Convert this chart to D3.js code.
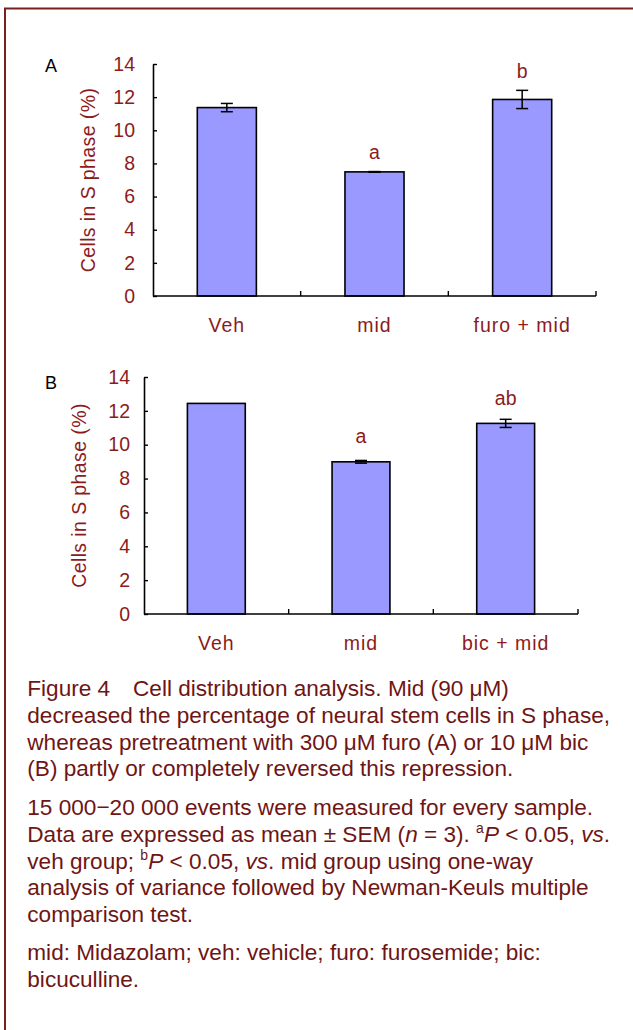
<!DOCTYPE html>
<html>
<head>
<meta charset="utf-8">
<script src="https://cdn.jsdelivr.net/npm/d3@7"></script>
<style>
  body { margin: 0; background: #fff; }
  svg { display: block; font-family: "Liberation Sans", Arial, sans-serif; }
</style>
</head>
<body>
<div id="figure"></div>
<script>
// Panel A data
const categoriesA = ['Veh', 'mid', 'furo + mid'];
const valuesA = [11.37, 7.49, 11.86];
const errorsA = [0.25, 0.02, 0.55];
const marksA = ['', 'a', 'b'];

// Panel B data
const categoriesB = ['Veh', 'mid', 'bic + mid'];
const valuesB = [12.44, 8.99, 11.26];
const errorsB = [0, 0.08, 0.24];
const marksB = ['', 'a', 'ab'];

const yTicks = [0, 2, 4, 6, 8, 10, 12, 14];

const width = 633, height = 1030;
const textRed = '#8c1b1b';
const captionRed = '#6e1515';

const svg = d3.select('#figure').append('svg')
    .attr('width', width)
    .attr('height', height);

svg.append('rect')
    .attr('width', width).attr('height', height)
    .attr('fill', '#fff');

// frame around the figure (right and bottom edges fall outside)
svg.append('rect')
    .attr('x', 5).attr('y', 8.5)
    .attr('width', 700).attr('height', 1100)
    .attr('fill', 'none')
    .attr('stroke', '#7a1f1f')
    .attr('stroke-width', 2);

function drawPanel(cfg) {
    const x = d3.scaleBand()
        .domain(cfg.categories)
        .range([cfg.left, cfg.right])
        .paddingInner(0.6)
        .paddingOuter(0.3);

    const y = d3.scaleLinear()
        .domain([0, 14])
        .range([cfg.bottom, cfg.top]);

    const g = svg.append('g');

    // bars
    g.selectAll('.bar')
        .data(cfg.values)
        .enter()
        .append('rect')
        .attr('class', 'bar')
        .attr('x', (d, i) => x(cfg.categories[i]))
        .attr('width', x.bandwidth())
        .attr('y', d => y(d))
        .attr('height', d => y(0) - y(d))
        .attr('fill', '#9999ff')
        .attr('stroke', '#000')
        .attr('stroke-width', 1.6);

    // error bars
    const capW = 12;
    cfg.values.forEach((v, i) => {
        const e = cfg.errors[i];
        if (!e) return;
        const cx = x(cfg.categories[i]) + x.bandwidth() / 2;
        const eg = g.append('g')
            .attr('stroke', '#000')
            .attr('stroke-width', 1.5);
        eg.append('line')
            .attr('x1', cx).attr('x2', cx)
            .attr('y1', y(v + e)).attr('y2', y(v - e));
        [v + e, v - e].forEach(t => {
            eg.append('line')
                .attr('x1', cx - capW / 2).attr('x2', cx + capW / 2)
                .attr('y1', y(t)).attr('y2', y(t));
        });
    });

    // significance letters
    g.selectAll('.mark')
        .data(cfg.marks)
        .enter()
        .append('text')
        .attr('class', 'mark')
        .attr('x', (d, i) => x(cfg.categories[i]) + x.bandwidth() / 2)
        .attr('y', (d, i) => y(cfg.values[i] + cfg.errors[i]) - cfg.markGap[i])
        .attr('text-anchor', 'middle')
        .style('font-size', '19.5px')
        .style('fill', textRed)
        .text(d => d);

    // y axis
    const yAxis = g.append('g')
        .attr('transform', `translate(${cfg.left},0)`)
        .call(d3.axisLeft(y)
            .tickValues(yTicks)
            .tickSizeInner(-4)
            .tickSizeOuter(0)
            .tickPadding(cfg.tickPad));
    yAxis.select('.domain').attr('stroke', '#000').attr('stroke-width', 1.6);
    yAxis.selectAll('.tick line').attr('stroke', '#000').attr('stroke-width', 1.4);
    yAxis.selectAll('.tick text')
        .style('font-size', '19.5px')
        .style('font-family', '"Liberation Sans", Arial, sans-serif')
        .style('fill', textRed);

    // x axis line with boundary ticks between categories
    g.append('line')
        .attr('x1', cfg.left).attr('x2', cfg.right)
        .attr('y1', y(0)).attr('y2', y(0))
        .attr('stroke', '#000')
        .attr('stroke-width', 1.6);
    g.selectAll('.xtick')
        .data(cfg.categories)
        .enter()
        .append('line')
        .attr('class', 'xtick')
        .attr('x1', (d, i) => cfg.left + x.step() * (i + 1))
        .attr('x2', (d, i) => cfg.left + x.step() * (i + 1))
        .attr('y1', y(0))
        .attr('y2', y(0) - 5)
        .attr('stroke', '#000')
        .attr('stroke-width', 1.4);

    // category labels
    g.selectAll('.xlabel')
        .data(cfg.categories)
        .enter()
        .append('text')
        .attr('class', 'xlabel')
        .attr('x', d => x(d) + x.bandwidth() / 2)
        .attr('y', y(0) + 36)
        .attr('text-anchor', 'middle')
        .style('font-size', '19.5px')
        .style('letter-spacing', '1px')
        .style('fill', textRed)
        .text(d => d);

    // y axis title
    g.append('text')
        .attr('transform', `translate(${cfg.titleX},${(cfg.top + cfg.bottom) / 2}) rotate(-90)`)
        .attr('text-anchor', 'middle')
        .style('font-size', '19.5px')
        .style('letter-spacing', '0.4px')
        .style('fill', textRed)
        .text('Cells in S phase (%)');

    // panel letter
    g.append('text')
        .attr('x', 45)
        .attr('y', cfg.letterY)
        .style('font-size', '18px')
        .style('fill', '#000')
        .text(cfg.letter);
}

drawPanel({
    letter: 'A', letterY: 72,
    categories: categoriesA, values: valuesA, errors: errorsA, marks: marksA,
    markGap: [0, 13, 12],
    left: 153, right: 596, top: 64, bottom: 296,
    tickPad: 18, titleX: 95
});

drawPanel({
    letter: 'B', letterY: 389,
    categories: categoriesB, values: valuesB, errors: errorsB, marks: marksB,
    markGap: [0, 17, 14],
    left: 144, right: 578, top: 377, bottom: 614,
    tickPad: 14, titleX: 86
});

// caption
const caption = svg.append('g')
    .style('font-size', '22.6px')
    .style('fill', captionRed);

const capX = 27.3;
const lines = [
    {y: 696, parts: [['Figure 4'], ['Cell distribution analysis. Mid (90 μM)', 'x133']]},
    {y: 723, parts: [['decreased the percentage of neural stem cells in S phase,']]},
    {y: 750, parts: [['whereas pretreatment with 300 μM furo (A) or 10 μM bic']]},
    {y: 776, parts: [['(B) partly or completely reversed this repression.']]},
    {y: 815, parts: [['15 000−20 000 events were measured for every sample.']]},
    {y: 842, parts: [['Data are expressed as mean ± SEM ('], ['n', 'i'], [' = 3). '], ['a', 'sup'], ['P', 'i'], [' < 0.05, '], ['vs', 'i'], ['.']]},
    {y: 869, parts: [['veh group; '], ['b', 'sup'], ['P', 'i'], [' < 0.05, '], ['vs', 'i'], ['. mid group using one-way']]},
    {y: 895, parts: [['analysis of variance followed by Newman-Keuls multiple']]},
    {y: 922, parts: [['comparison test.']]},
    {y: 960, parts: [['mid: Midazolam; veh: vehicle; furo: furosemide; bic:']]},
    {y: 987, parts: [['bicuculline.']]}
];

lines.forEach(line => {
    const t = caption.append('text')
        .attr('x', capX)
        .attr('y', line.y)
        .attr('xml:space', 'preserve');
    line.parts.forEach(p => {
        const ts = t.append('tspan').text(p[0]);
        if (p[1] === 'i') ts.style('font-style', 'italic');
        if (p[1] === 'x133') ts.attr('x', 133);
        if (p[1] === 'sup') {
            ts.attr('dy', -9).style('font-size', '14px').attr('class', 'sup');
        }
    });
    // bring the tspan after each superscript back down
    t.selectAll('tspan.sup').each(function() {
        const next = this.nextSibling;
        if (next) d3.select(next).attr('dy', 9);
    });
});
</script>
</body>
</html>
